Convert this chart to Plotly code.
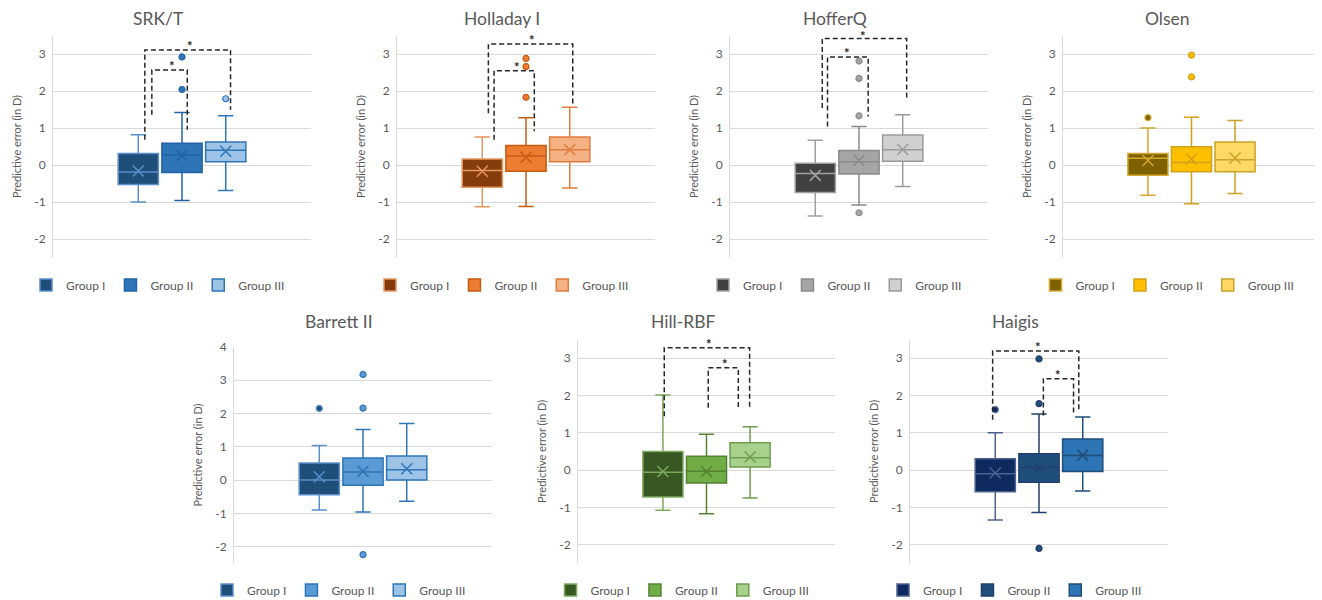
import plotly.graph_objects as go

# ---------------- data ----------------
methods = ["SRK/T", "Holladay I", "HofferQ", "Olsen", "Barrett II", "Hill-RBF", "Haigis"]
groups = ["Group I", "Group II", "Group III"]
group_pos = [1, 2, 3]

tick_values_a = [-2, -1, 0, 1, 2, 3]
tick_labels_a = ["-2", "-1", "0", "1", "2", "3"]
tick_values_b = [-2, -1, 0, 1, 2, 3, 4]
tick_labels_b = ["-2", "-1", "0", "1", "2", "3", "4"]

lower_whisker = [
    [-1.00, -0.96, -0.69],
    [-1.13, -1.12, -0.62],
    [-1.38, -1.08, -0.58],
    [-0.82, -1.05, -0.77],
    [-0.90, -0.96, -0.64],
    [-1.08, -1.17, -0.75],
    [-1.34, -1.14, -0.56],
]
q1 = [
    [-0.53, -0.20, 0.09],
    [-0.60, -0.17, 0.09],
    [-0.74, -0.24, 0.10],
    [-0.28, -0.18, -0.18],
    [-0.44, -0.16, 0.00],
    [-0.72, -0.35, 0.08],
    [-0.58, -0.33, -0.04],
]
median = [
    [-0.19, 0.27, 0.40],
    [-0.15, 0.24, 0.41],
    [-0.23, 0.09, 0.41],
    [0.18, 0.07, 0.14],
    [0.00, 0.24, 0.31],
    [-0.06, -0.03, 0.33],
    [-0.10, 0.07, 0.39],
]
q3 = [
    [0.31, 0.59, 0.62],
    [0.16, 0.53, 0.76],
    [0.05, 0.39, 0.81],
    [0.31, 0.49, 0.62],
    [0.51, 0.66, 0.72],
    [0.50, 0.37, 0.73],
    [0.30, 0.44, 0.83],
]
upper_whisker = [
    [0.82, 1.42, 1.33],
    [0.76, 1.28, 1.56],
    [0.67, 1.04, 1.36],
    [1.00, 1.29, 1.20],
    [1.04, 1.52, 1.70],
    [2.01, 0.96, 1.16],
    [1.00, 1.50, 1.42],
]
mean = [
    [-0.16, 0.26, 0.37],
    [-0.17, 0.21, 0.41],
    [-0.28, 0.12, 0.42],
    [0.12, 0.16, 0.19],
    [0.10, 0.26, 0.34],
    [-0.04, -0.04, 0.35],
    [-0.08, 0.07, 0.40],
]
outliers = [
    [[], [2.92, 2.04], [1.79]],
    [[], [2.88, 2.66, 1.83], []],
    [[], [2.81, 2.34, 1.33, -1.29], []],
    [[1.28], [2.97, 2.38], []],
    [[2.15], [3.17, 2.16, -2.24], []],
    [[], [], []],
    [[1.62], [2.98, 1.78, -2.10], []],
]

# significance brackets (dashed) with "*"
bracket_panel = [0, 0, 1, 1, 2, 2, 5, 5, 6, 6]
bracket_x0 = [1.15, 1.31, 1.14, 1.27, 1.16, 1.28, 1.03, 2.04, 0.94, 2.10]
bracket_x1 = [3.11, 2.12, 3.07, 2.19, 3.09, 2.21, 2.99, 2.73, 2.91, 2.79]
bracket_top = [3.11, 2.57, 3.27, 2.55, 3.42, 2.92, 3.28, 2.74, 3.19, 2.45]
bracket_left_end = [0.68, 1.36, 1.40, 0.68, 1.54, 1.04, 1.44, 1.67, 1.35, 1.46]
bracket_right_end = [1.49, 0.95, 1.63, 0.91, 1.81, 1.31, 1.67, 1.67, 1.62, 1.53]
star_x = [2.18, 1.76, 2.14, 1.80, 2.08, 1.72, 2.06, 2.42, 1.97, 2.44]
star_lift_px = [3, 3, 3, 3, 1.5, 3, 3, 3, 3, 3]

fill_colors = [
    ["#1F4E79", "#2E75B6", "#9DC3E6"],
    ["#843C0C", "#ED7D31", "#F4B183"],
    ["#404040", "#A5A5A5", "#D0D0D0"],
    ["#7F6000", "#FFC000", "#FFD966"],
    ["#1F4E79", "#5B9BD5", "#9DC3E6"],
    ["#385723", "#70AD47", "#A9D18E"],
    ["#0F2A5E", "#1F4E79", "#2E75B6"],
]
line_colors = [
    ["#5B8FCB", "#2163A6", "#2E75B6"],
    ["#E8955E", "#C55A11", "#E07B3C"],
    ["#A0A0A0", "#8A8A8A", "#9A9A9A"],
    ["#D4A72C", "#D4A017", "#C9A227"],
    ["#5B8FCB", "#2E75B6", "#2E75B6"],
    ["#7BAA5C", "#548235", "#6E9E4E"],
    ["#4D6291", "#223F6E", "#1F4E79"],
]

# ---------------- layout geometry (page pixels; the page body adds an 8px offset) ----------------
OFF = 8
W, H = 1322 - OFF, 600 - OFF
panel_x = [(53, 311), (397, 655), (730, 988), (1063, 1320), (234, 492), (578, 835), (910, 1168)]
panel_y = [(35.5, 257.5)] * 4 + [(346.8, 563.3), (339.5, 563.3), (339.5, 563.3)]
y_ranges = [[-2.5, 3.5]] * 4 + [[-2.5, 4.0], [-2.5, 3.5], [-2.5, 3.5]]
title_y = [18.5] * 4 + [321] * 3
legend_y = [285] * 4 + [590] * 3


def px_x(p):
    return (p - OFF) / W


def px_y(p):
    return 1 - (p - OFF) / H


font_family = "Lato, 'Open Sans', sans-serif"
grey = "#595959"

fig = go.Figure()
layout = dict(
    width=W, height=H,
    margin=dict(l=0, r=0, t=0, b=0, autoexpand=False),
    paper_bgcolor="white", plot_bgcolor="white",
    font=dict(family=font_family, color=grey, size=12),
    showlegend=True,
)
annotations = []
shapes = []

for i, m in enumerate(methods):
    k = "" if i == 0 else str(i + 1)
    xa, ya = "x" + k, "y" + k
    lg = "legend" + k
    x0p, x1p = panel_x[i]
    y0p, y1p = panel_y[i]
    tv = tick_values_b if i == 4 else tick_values_a
    tt = tick_labels_b if i == 4 else tick_labels_a
    layout["xaxis" + k] = dict(
        domain=[px_x(x0p), px_x(x1p)], anchor=ya, range=[-0.95, 4.95],
        showgrid=False, zeroline=False, showticklabels=False, showline=False,
        fixedrange=True,
    )
    layout["yaxis" + k] = dict(
        domain=[px_y(y1p), px_y(y0p)], anchor=xa, range=y_ranges[i],
        tickmode="array", tickvals=tv, ticktext=tt,
        showgrid=True, gridcolor="#D9D9D9", gridwidth=1,
        zeroline=False, showline=True, linecolor="#D9D9D9", linewidth=1,
        ticks="", ticklabelstandoff=4,
        tickfont=dict(size=12, color=grey, family=font_family),
        title=dict(text="Predictive error (in D)", standoff=10,
                   font=dict(size=11, color=grey, family=font_family)),
        fixedrange=True, automargin=False,
    )
    cx = (x0p + x1p) / 2 - 24
    layout[lg] = dict(
        orientation="h", x=px_x(cx), xanchor="center",
        y=px_y(legend_y[i]), yanchor="middle",
        font=dict(size=12, color=grey, family=font_family),
        bgcolor="rgba(0,0,0,0)", itemwidth=30, tracegroupgap=0,
    )
    annotations.append(dict(
        text=m, x=px_x(cx), y=min(1.0, px_y(title_y[i])), xref="paper", yref="paper",
        xanchor="center", yanchor="middle", showarrow=False,
        font=dict(size=17.5, color=grey, family=font_family),
    ))

    for g in range(3):
        fc, lc = fill_colors[i][g], line_colors[i][g]
        fig.add_trace(go.Box(
            x=[group_pos[g]], q1=[q1[i][g]], median=[median[i][g]], q3=[q3[i][g]],
            lowerfence=[lower_whisker[i][g]], upperfence=[upper_whisker[i][g]],
            width=0.92, whiskerwidth=0.38, fillcolor=fc,
            line=dict(color=lc, width=1.5), boxpoints=False,
            name=groups[g], xaxis=xa, yaxis=ya, legend=lg, showlegend=True,
            hoverinfo="y",
        ))
        fig.add_trace(go.Scatter(
            x=[group_pos[g]], y=[mean[i][g]], mode="markers",
            marker=dict(symbol="x-thin", size=11, color=lc, line=dict(color=lc, width=1.5)),
            xaxis=xa, yaxis=ya, showlegend=False, hoverinfo="y",
        ))
        if outliers[i][g]:
            fig.add_trace(go.Scatter(
                x=[group_pos[g]] * len(outliers[i][g]), y=outliers[i][g], mode="markers",
                marker=dict(symbol="circle", size=6, color=fc, line=dict(color=lc, width=1.2)),
                xaxis=xa, yaxis=ya, showlegend=False, hoverinfo="y", cliponaxis=False,
            ))

for b, p in enumerate(bracket_panel):
    k = "" if p == 0 else str(p + 1)
    xa, ya = "x" + k, "y" + k
    path = (f"M {bracket_x0[b]},{bracket_left_end[b]} L {bracket_x0[b]},{bracket_top[b]} "
            f"L {bracket_x1[b]},{bracket_top[b]} L {bracket_x1[b]},{bracket_right_end[b]}")
    shapes.append(dict(type="path", path=path, xref=xa, yref=ya,
                       line=dict(color="#262626", width=1.5, dash="5px,3px")))
    annotations.append(dict(
        text="<b>*</b>", x=star_x[b], y=bracket_top[b], xref=xa, yref=ya,
        xanchor="center", yanchor="bottom", yshift=star_lift_px[b], showarrow=False,
        height=8, valign="top", borderpad=0,
        font=dict(size=13, color="#262626", family=font_family),
    ))

layout["annotations"] = annotations
layout["shapes"] = shapes
fig.update_layout(**layout)
fig.write_html("out.html")
